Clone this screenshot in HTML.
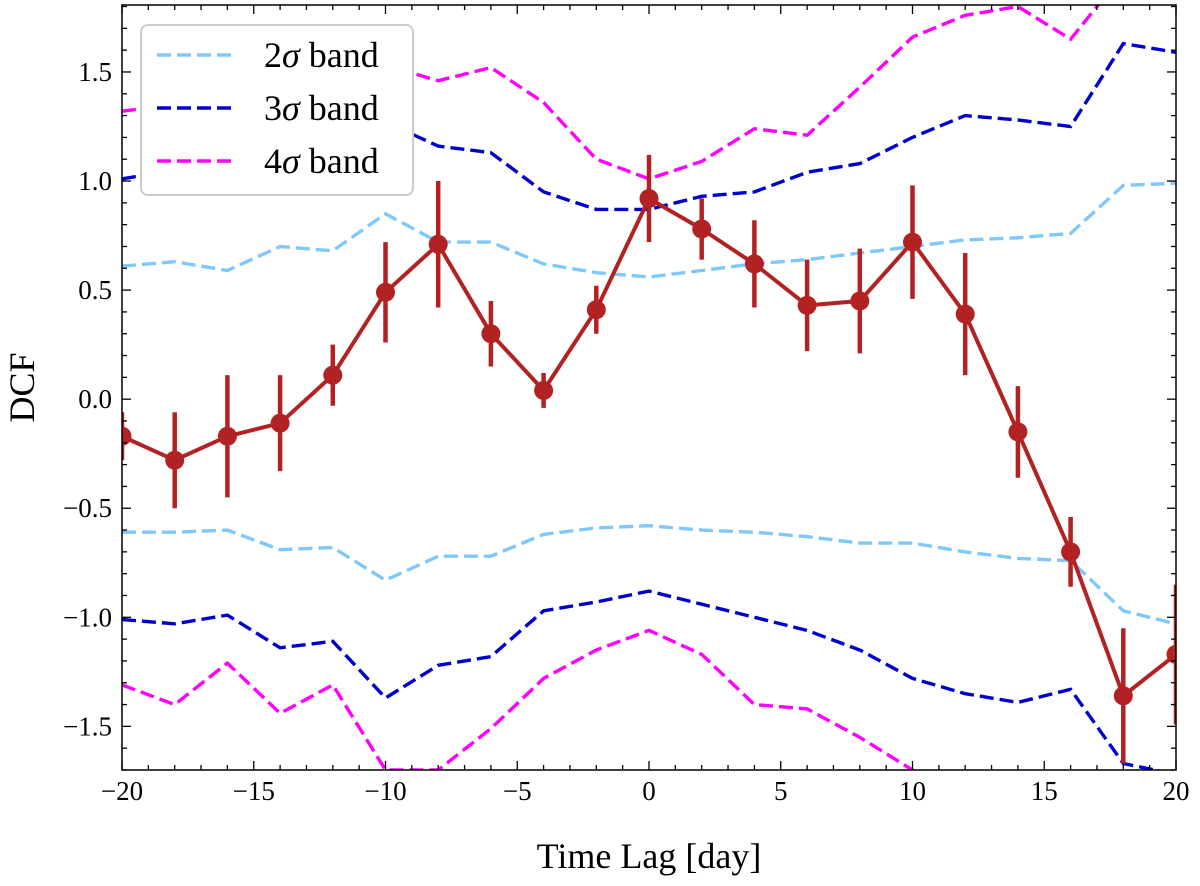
<!DOCTYPE html>
<html><head><meta charset="utf-8"><style>
html,body{margin:0;padding:0;background:#fff;}
svg{display:block;font-family:"Liberation Serif",serif;}
</style></head><body>
<svg id="chart" width="1200" height="886" viewBox="0 0 1200 886"></svg>
<script>
const lags=[-20,-18,-16,-14,-12,-10,-8,-6,-4,-2,0,2,4,6,8,10,12,14,16,18,20];
const dcf=[-0.17,-0.28,-0.17,-0.11,0.11,0.49,0.71,0.30,0.04,0.41,0.92,0.78,0.62,0.43,0.45,0.72,0.39,-0.15,-0.70,-1.36,-1.17];
const dcfErr=[0.11,0.22,0.28,0.22,0.14,0.23,0.29,0.15,0.08,0.11,0.20,0.14,0.20,0.21,0.24,0.26,0.28,0.21,0.16,0.31,0.32];
const band2Up=[0.61,0.63,0.59,0.70,0.68,0.85,0.72,0.72,0.62,0.58,0.56,0.59,0.62,0.64,0.67,0.70,0.73,0.74,0.76,0.98,0.99];
const band2Lo=[-0.61,-0.61,-0.60,-0.69,-0.68,-0.83,-0.72,-0.72,-0.62,-0.59,-0.58,-0.60,-0.61,-0.63,-0.66,-0.66,-0.70,-0.73,-0.74,-0.97,-1.03];
const band3Up=[1.01,1.05,1.10,1.15,1.20,1.27,1.16,1.13,0.95,0.87,0.87,0.93,0.95,1.04,1.08,1.20,1.30,1.28,1.25,1.63,1.59];
const band3Lo=[-1.01,-1.03,-0.99,-1.14,-1.11,-1.37,-1.22,-1.18,-0.97,-0.93,-0.88,-0.94,-1.00,-1.06,-1.15,-1.28,-1.35,-1.39,-1.33,-1.67,-1.72];
const band4Up=[1.32,1.35,1.40,1.45,1.50,1.53,1.46,1.52,1.36,1.10,1.01,1.09,1.24,1.21,1.43,1.66,1.76,1.80,1.65,1.95,2.00];
const band4Lo=[-1.31,-1.40,-1.21,-1.44,-1.31,-1.70,-1.70,-1.51,-1.28,-1.15,-1.06,-1.17,-1.40,-1.42,-1.55,-1.70,-1.82,-1.95,-2.00,-2.10,-2.20];
const xTicks=[-20,-15,-10,-5,0,5,10,15,20];
const xTickLabels=["\u221220","\u221215","\u221210","\u22125","0","5","10","15","20"];
const yTicks=[-1.5,-1.0,-0.5,0.0,0.5,1.0,1.5];
const yTickLabels=["\u22121.5","\u22121.0","\u22120.5","0.0","0.5","1.0","1.5"];

const L=122,R=1176,T=5,B=770;
const xMin=-20,xMax=20,yMin=-1.70,yMax=1.807;
const X=v=>L+(v-xMin)/(xMax-xMin)*(R-L);
const Y=v=>B-(v-yMin)/(yMax-yMin)*(B-T);
const NS="http://www.w3.org/2000/svg";
const svg=document.getElementById('chart');
function mk(tag,attrs,parent){const e=document.createElementNS(NS,tag);for(const k in attrs)e.setAttribute(k,attrs[k]);(parent||svg).appendChild(e);return e;}

const defs=mk('defs',{});
const cp=mk('clipPath',{id:'clip'},defs);
mk('rect',{x:L,y:T,width:R-L,height:B-T},cp);
const plot=mk('g',{'clip-path':'url(#clip)'});



function band(arr,color,name){
  const d=arr.map((v,i)=>(i?'L':'M')+X(lags[i]).toFixed(1)+' '+Y(v).toFixed(1)).join(' ');
  const p=mk('path',{d:d,fill:'none',stroke:color,'stroke-width':3.4,'stroke-dasharray':'14 6'},plot);
  
  
}
band(band2Up,'#7fc8f8','band-2sigma-upper');band(band2Lo,'#7fc8f8','band-2sigma-lower');
band(band3Up,'#0000cd','band-3sigma-upper');band(band3Lo,'#0000cd','band-3sigma-lower');
band(band4Up,'#ff00ff','band-4sigma-upper');band(band4Lo,'#ff00ff','band-4sigma-lower');

const red='#b22222';
dcf.forEach((v,i)=>{
  const e=mk('line',{x1:X(lags[i]),x2:X(lags[i]),y1:Y(v-dcfErr[i]),y2:Y(v+dcfErr[i]),stroke:red,'stroke-width':4.5},plot);
  
  
});
const ld=dcf.map((v,i)=>(i?'L':'M')+X(lags[i]).toFixed(1)+' '+Y(v).toFixed(1)).join(' ');
const dl=mk('path',{d:ld,fill:'none',stroke:red,'stroke-width':4,'stroke-linejoin':'round'},plot);


dcf.forEach((v,i)=>{
  const c=mk('circle',{cx:X(lags[i]),cy:Y(v),r:9.5,fill:red},plot);
  
  
});

// legend (opaque, above lines)
const lg=mk('g',{});


mk('rect',{x:141,y:25,width:272,height:170,rx:7,fill:'#fff',stroke:'#ccc','stroke-width':2},lg);
const items=[['#7fc8f8','2'],['#0000cd','3'],['#ff00ff','4']];
items.forEach((it,i)=>{
  const y=55+i*53;
  const g=mk('g',{},lg);
  
  
  mk('line',{x1:157,x2:233,y1:y,y2:y,stroke:it[0],'stroke-width':3.4,'stroke-dasharray':'14 6'},g);
  const t=mk('text',{x:264,y:y+12,'font-size':36},g);
  t.innerHTML=it[1]+'<tspan font-style="italic">σ</tspan> band';
});

// ticks
const tg=mk('g',{stroke:'#000','stroke-width':1.3});


for(let v=xMin;v<=xMax;v++){
  const len=(v%5===0)?9:5,x=X(v);
  mk('line',{x1:x,x2:x,y1:B,y2:B-len},tg);mk('line',{x1:x,x2:x,y1:T,y2:T+len},tg);
}
for(let k=-17;k<=18;k++){
  const v=k/10,len=(k%5===0)?9:5,y=Y(v);
  mk('line',{x1:L,x2:L+len,y1:y,y2:y},tg);mk('line',{x1:R,x2:R-len,y1:y,y2:y},tg);
}
const fr=mk('rect',{x:L,y:T,width:R-L,height:B-T,fill:'none',stroke:'#000','stroke-width':1.5});



xTicks.forEach((v,i)=>{
  const t=mk('text',{x:X(v),y:B+30,'font-size':27,'text-anchor':'middle'});
  t.textContent=xTickLabels[i];
  
  
});
yTicks.forEach((v,i)=>{
  const t=mk('text',{x:L-10,y:Y(v)+9,'font-size':27,'text-anchor':'end'});
  t.textContent=yTickLabels[i];
  
  
});
const xt=mk('text',{x:(L+R)/2,y:868,'font-size':36,'text-anchor':'middle'});
xt.textContent='Time Lag [day]';


const yt=mk('text',{x:0,y:0,'font-size':36,'text-anchor':'middle',transform:'translate(34,'+((T+B)/2)+') rotate(-90)'});
yt.textContent='DCF';


</script>
</body></html>
